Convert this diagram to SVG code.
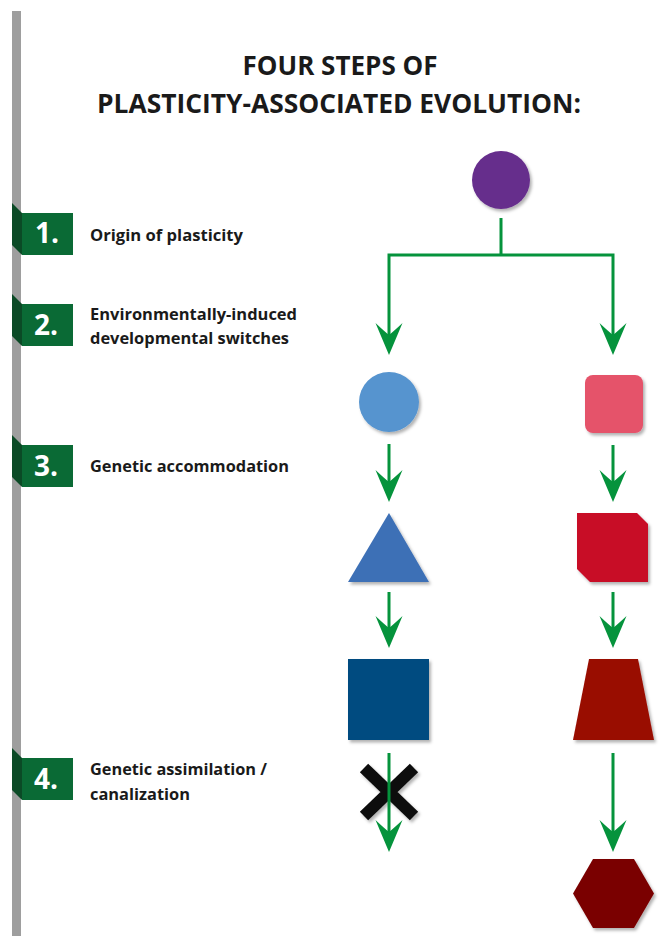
<svg xmlns="http://www.w3.org/2000/svg" xmlns:xlink="http://www.w3.org/1999/xlink" width="663" height="936" viewBox="0 0 663 936">
<style>
.title{font-family:"Open Sans","Noto Sans",sans-serif;font-weight:700;font-size:26px;fill:#1a1a1a;text-anchor:middle}
.lbl{font-family:"Open Sans","Noto Sans",sans-serif;font-weight:700;font-size:16px;fill:#1a1a1a}
.num{font-family:"Open Sans","Noto Sans",sans-serif;font-weight:700;font-size:28px;fill:#ffffff;text-anchor:middle}
.tab{fill:#0a6a35}
.fold{fill:#0b4a26}
.line{fill:none;stroke:#05933c;stroke-width:3}
.head{fill:#05933c}
</style>
<defs>
<filter id="sh" x="-20%" y="-20%" width="150%" height="150%">
<feDropShadow dx="2" dy="2.5" stdDeviation="1.5" flood-color="#000" flood-opacity="0.3"/>
</filter>
<path id="ah" d="M0,0 L-13.5,-32 Q-5,-24 0,-20 Q5,-24 13.5,-32 Z"/>
<g id="tabshape">
<polygon class="fold" points="12,-10 22,0 22,42 12,32"/>
<rect class="tab" x="22" y="0" width="51" height="42"/>
</g>
</defs>
<rect width="663" height="936" fill="#ffffff"/>
<rect x="12" y="11" width="9" height="925" fill="#9e9e9e"/>

<g id="title">
<text class="title" x="340" y="75">FOUR STEPS OF</text>
<text class="title" x="339" y="113" textLength="484" lengthAdjust="spacingAndGlyphs">PLASTICITY-ASSOCIATED EVOLUTION:</text>
</g>

<g id="step1">
<use xlink:href="#tabshape" y="213"/>
<text class="num" x="47" y="243">1.</text>
<text class="lbl" x="90" y="241" textLength="153" lengthAdjust="spacingAndGlyphs">Origin of plasticity</text>
</g>
<g id="step2">
<use xlink:href="#tabshape" y="304"/>
<text class="num" x="46" y="335">2.</text>
<text class="lbl" x="90" y="320" textLength="207" lengthAdjust="spacingAndGlyphs">Environmentally-induced</text>
<text class="lbl" x="90" y="344" textLength="199" lengthAdjust="spacingAndGlyphs">developmental switches</text>
</g>
<g id="step3">
<use xlink:href="#tabshape" y="445"/>
<text class="num" x="46" y="476">3.</text>
<text class="lbl" x="90" y="472" textLength="199" lengthAdjust="spacingAndGlyphs">Genetic accommodation</text>
</g>
<g id="step4">
<use xlink:href="#tabshape" y="758"/>
<text class="num" x="46" y="789">4.</text>
<text class="lbl" x="90" y="775" textLength="177" lengthAdjust="spacingAndGlyphs">Genetic assimilation /</text>
<text class="lbl" x="90" y="800" textLength="100" lengthAdjust="spacingAndGlyphs">canalization</text>
</g>

<g id="node-purple-circle"><circle cx="501" cy="180" r="29" fill="#662d8c" filter="url(#sh)"/></g>
<g id="node-blue-circle"><circle cx="389" cy="402" r="30" fill="#5694cf" filter="url(#sh)"/></g>
<g id="node-pink-square"><rect x="585" y="375" width="58" height="58" rx="8" fill="#e5526a" filter="url(#sh)"/></g>
<g id="node-blue-triangle"><polygon points="389,513 429,582 348,582" fill="#3d6fb6" filter="url(#sh)"/></g>
<g id="node-red-cut-square"><polygon points="577,513 637,513 648,524 648,582 590,582 577,569" fill="#c80b25" filter="url(#sh)"/></g>
<g id="node-darkblue-square"><rect x="348" y="659" width="81" height="81" fill="#004b80" filter="url(#sh)"/></g>
<g id="node-red-trapezoid"><polygon points="589,659 638,659 654,740 573,740" fill="#990c02" filter="url(#sh)"/></g>
<g id="node-cross"><path d="M364,768 L414,816 M414,768 L364,816" stroke="#111111" stroke-width="12" fill="none" filter="url(#sh)"/></g>
<g id="node-hexagon"><polygon points="573,893.5 593,859 634,859 654,893.5 634,928 593,928" fill="#7a0000" filter="url(#sh)"/></g>

<g id="connectors">
<path class="line" d="M501,218 V255 M389,336 V255 H613 V336"/>
<use class="head" xlink:href="#ah" x="389" y="355"/>
<use class="head" xlink:href="#ah" x="613" y="355"/>
<path class="line" d="M389,444 V483 M389,592 V629 M389,753 V833"/>
<use class="head" xlink:href="#ah" x="389" y="502"/>
<use class="head" xlink:href="#ah" x="389" y="648"/>
<use class="head" xlink:href="#ah" x="389" y="852"/>
<path class="line" d="M613,445 V483 M613,592 V629 M613,753 V833"/>
<use class="head" xlink:href="#ah" x="613" y="502"/>
<use class="head" xlink:href="#ah" x="613" y="648"/>
<use class="head" xlink:href="#ah" x="613" y="852"/>
</g>
</svg>
